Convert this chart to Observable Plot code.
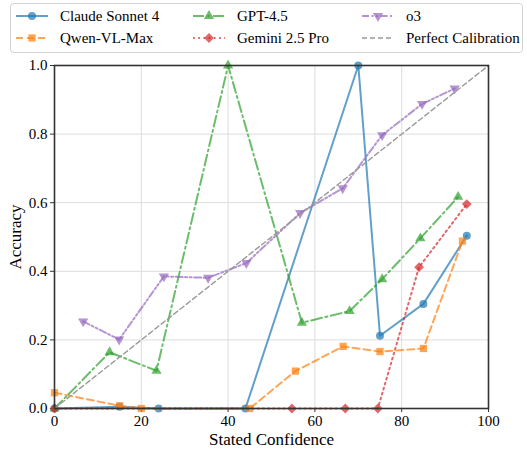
<!DOCTYPE html>
<html>
<head>
<meta charset="utf-8">
<script src="https://cdn.jsdelivr.net/npm/d3@7"></script>
<script src="https://cdn.jsdelivr.net/npm/@observablehq/plot@0.6"></script>
<style>
  body { margin: 0; background: #fff; font-family: "Liberation Serif", "Times New Roman", Times, "DejaVu Serif", "Noto Serif", serif; }
  #wrap { width: 527px; }
  #legend { position: relative; width: 527px; height: 56px; }
  #legend .box { position: absolute; left: 10px; top: 3px; width: 511px; height: 48px; border: 1px solid #d4d4d4; border-radius: 4px; }
  #legend .item { position: absolute; height: 20px; display: flex; align-items: center; font-size: 15px; color: #000; white-space: nowrap; }
  #legend svg { display: block; margin-right: 12px; }
  svg text { font-family: "Liberation Serif", "Times New Roman", Times, "DejaVu Serif", "Noto Serif", serif; }
  g[aria-label="x-axis label"] text, g[aria-label="y-axis label"] text { font-size: 17px; }
</style>
</head>
<body>
<div id="wrap">
  <div id="legend"><div class="box"></div></div>
  <div id="chart"></div>
</div>
<script>
// ---- data ----
const seriesNames = ["Claude Sonnet 4", "Qwen-VL-Max", "GPT-4.5", "Gemini 2.5 Pro", "o3"];
const claudeX = [0, 15, 24, 44, 70, 75, 85, 95];
const claudeY = [0, 0.005, 0, 0, 1.0, 0.212, 0.305, 0.504];
const qwenX = [0, 15, 20, 45, 55.5, 66.5, 75, 85, 94];
const qwenY = [0.046, 0.008, 0, 0, 0.109, 0.181, 0.166, 0.175, 0.488];
const gptX = [0, 12.7, 23.5, 40, 57, 68, 75.5, 84.3, 93];
const gptY = [0, 0.164, 0.11, 1.0, 0.25, 0.284, 0.377, 0.496, 0.617];
const geminiX = [0, 54.7, 67, 74.5, 84, 95];
const geminiY = [0, 0, 0, 0, 0.412, 0.596];
const o3X = [6.6, 14.9, 25.2, 35.4, 44.2, 56.6, 66.4, 75.5, 84.7, 92.2];
const o3Y = [0.254, 0.201, 0.385, 0.381, 0.424, 0.57, 0.642, 0.797, 0.888, 0.933];
const calibX = [0, 100];
const calibY = [0, 1];
const xTicks = [0, 20, 40, 60, 80, 100];
const yTicks = [0, 0.2, 0.4, 0.6, 0.8, 1.0];

// ---- styles ----
const triangleDown = {
  draw(context, size) {
    const y = -Math.sqrt(size / (Math.sqrt(3) * 3));
    context.moveTo(0, -y * 2);
    context.lineTo(-Math.sqrt(3) * y, y);
    context.lineTo(Math.sqrt(3) * y, y);
    context.closePath();
  }
};
const styles = [
  {color: "#1f77b4", dash: null, symbol: "circle", r: 4},
  {color: "#ff7f0e", dash: "7,4", symbol: "square", r: 4.1},
  {color: "#2ca02c", dash: "11,3.5,2,3.5", symbol: "triangle", r: 3.8},
  {color: "#d62728", dash: "1.8,3.4", symbol: "diamond2", r: 4.4},
  {color: "#9467bd", dash: "7,2.5,2,2.5,2,2.5", symbol: triangleDown, r: 3.8}
];
const xs = [claudeX, qwenX, gptX, geminiX, o3X];
const ys = [claudeY, qwenY, gptY, geminiY, o3Y];
const data = seriesNames.map((name, i) => xs[i].map((x, j) => ({series: name, x, y: ys[i][j]})));
const calib = calibX.map((x, i) => ({x, y: calibY[i]}));

const marks = [
  Plot.gridX(xTicks, {stroke: "#dcdcdc", strokeOpacity: 1, strokeWidth: 1}),
  Plot.gridY(yTicks, {stroke: "#dcdcdc", strokeOpacity: 1, strokeWidth: 1}),
  Plot.axisX(xTicks, {label: "Stated Confidence", labelAnchor: "center", labelArrow: "none", labelOffset: 36, tickSize: 4, tickPadding: 3, fontSize: 15, stroke: "#333"}),
  Plot.axisY(yTicks, {label: "Accuracy", labelAnchor: "center", labelArrow: "none", labelOffset: 46, tickSize: 4, tickPadding: 3, fontSize: 15, tickFormat: d3.format(".1f"), stroke: "#333"})
];
data.forEach((d, i) => {
  const s = styles[i];
  marks.push(Plot.line(d, {x: "x", y: "y", stroke: s.color, strokeWidth: 2, strokeOpacity: 0.7, strokeDasharray: s.dash}));
  marks.push(Plot.dot(d, {x: "x", y: "y", symbol: s.symbol, r: s.r, fill: s.color, fillOpacity: 0.7, stroke: "none"}));
});
marks.push(Plot.line(calib, {x: "x", y: "y", stroke: "#999", strokeWidth: 1.4, strokeDasharray: "5,3"}));
marks.push(Plot.frame({stroke: "#333", strokeWidth: 1.6}));

const chart = Plot.plot({
  width: 527,
  height: 395,
  marginTop: 9,
  marginBottom: 43,
  marginLeft: 54,
  marginRight: 39,
  style: {fontFamily: "'Liberation Serif', 'Times New Roman', Times, 'DejaVu Serif', serif", fontSize: "15px", color: "#000", background: "#fff"},
  x: {domain: [0, 100]},
  y: {domain: [0, 1]},
  marks
});
document.getElementById("chart").appendChild(chart);

// ---- legend ----
const legendItems = [
  {i: 0, left: 16, top: 6}, {i: 1, left: 16, top: 28},
  {i: 2, left: 193, top: 6}, {i: 3, left: 193, top: 28},
  {i: 4, left: 362, top: 6}, {i: 5, left: 362, top: 28}
];
const legend = document.getElementById("legend");
legendItems.forEach(({i, left, top}) => {
  const item = document.createElement("div");
  item.className = "item";
  item.style.left = left + "px";
  item.style.top = top + "px";
  const w = 32;
  const svg = d3.create("svg").attr("width", w).attr("height", 20);
  if (i < 5) {
    const s = styles[i];
    svg.append("line").attr("x1", 0).attr("x2", w).attr("y1", 10).attr("y2", 10)
      .attr("stroke", s.color).attr("stroke-width", 2).attr("stroke-opacity", 0.7)
      .attr("stroke-dasharray", s.dash);
    const sym = typeof s.symbol === "string"
      ? {circle: d3.symbolCircle, square: d3.symbolSquare, triangle: d3.symbolTriangle, diamond2: d3.symbolDiamond2}[s.symbol]
      : s.symbol;
    svg.append("path").attr("transform", `translate(${w / 2},10)`)
      .attr("d", d3.symbol(sym, Math.PI * s.r * s.r)())
      .attr("fill", s.color).attr("fill-opacity", 0.7);
  } else {
    svg.append("line").attr("x1", 0).attr("x2", w).attr("y1", 10).attr("y2", 10)
      .attr("stroke", "#999").attr("stroke-width", 1.4).attr("stroke-dasharray", "5,3");
  }
  item.appendChild(svg.node());
  const span = document.createElement("span");
  span.textContent = i < 5 ? seriesNames[i] : "Perfect Calibration";
  item.appendChild(span);
  legend.appendChild(item);
});
</script>
</body>
</html>
